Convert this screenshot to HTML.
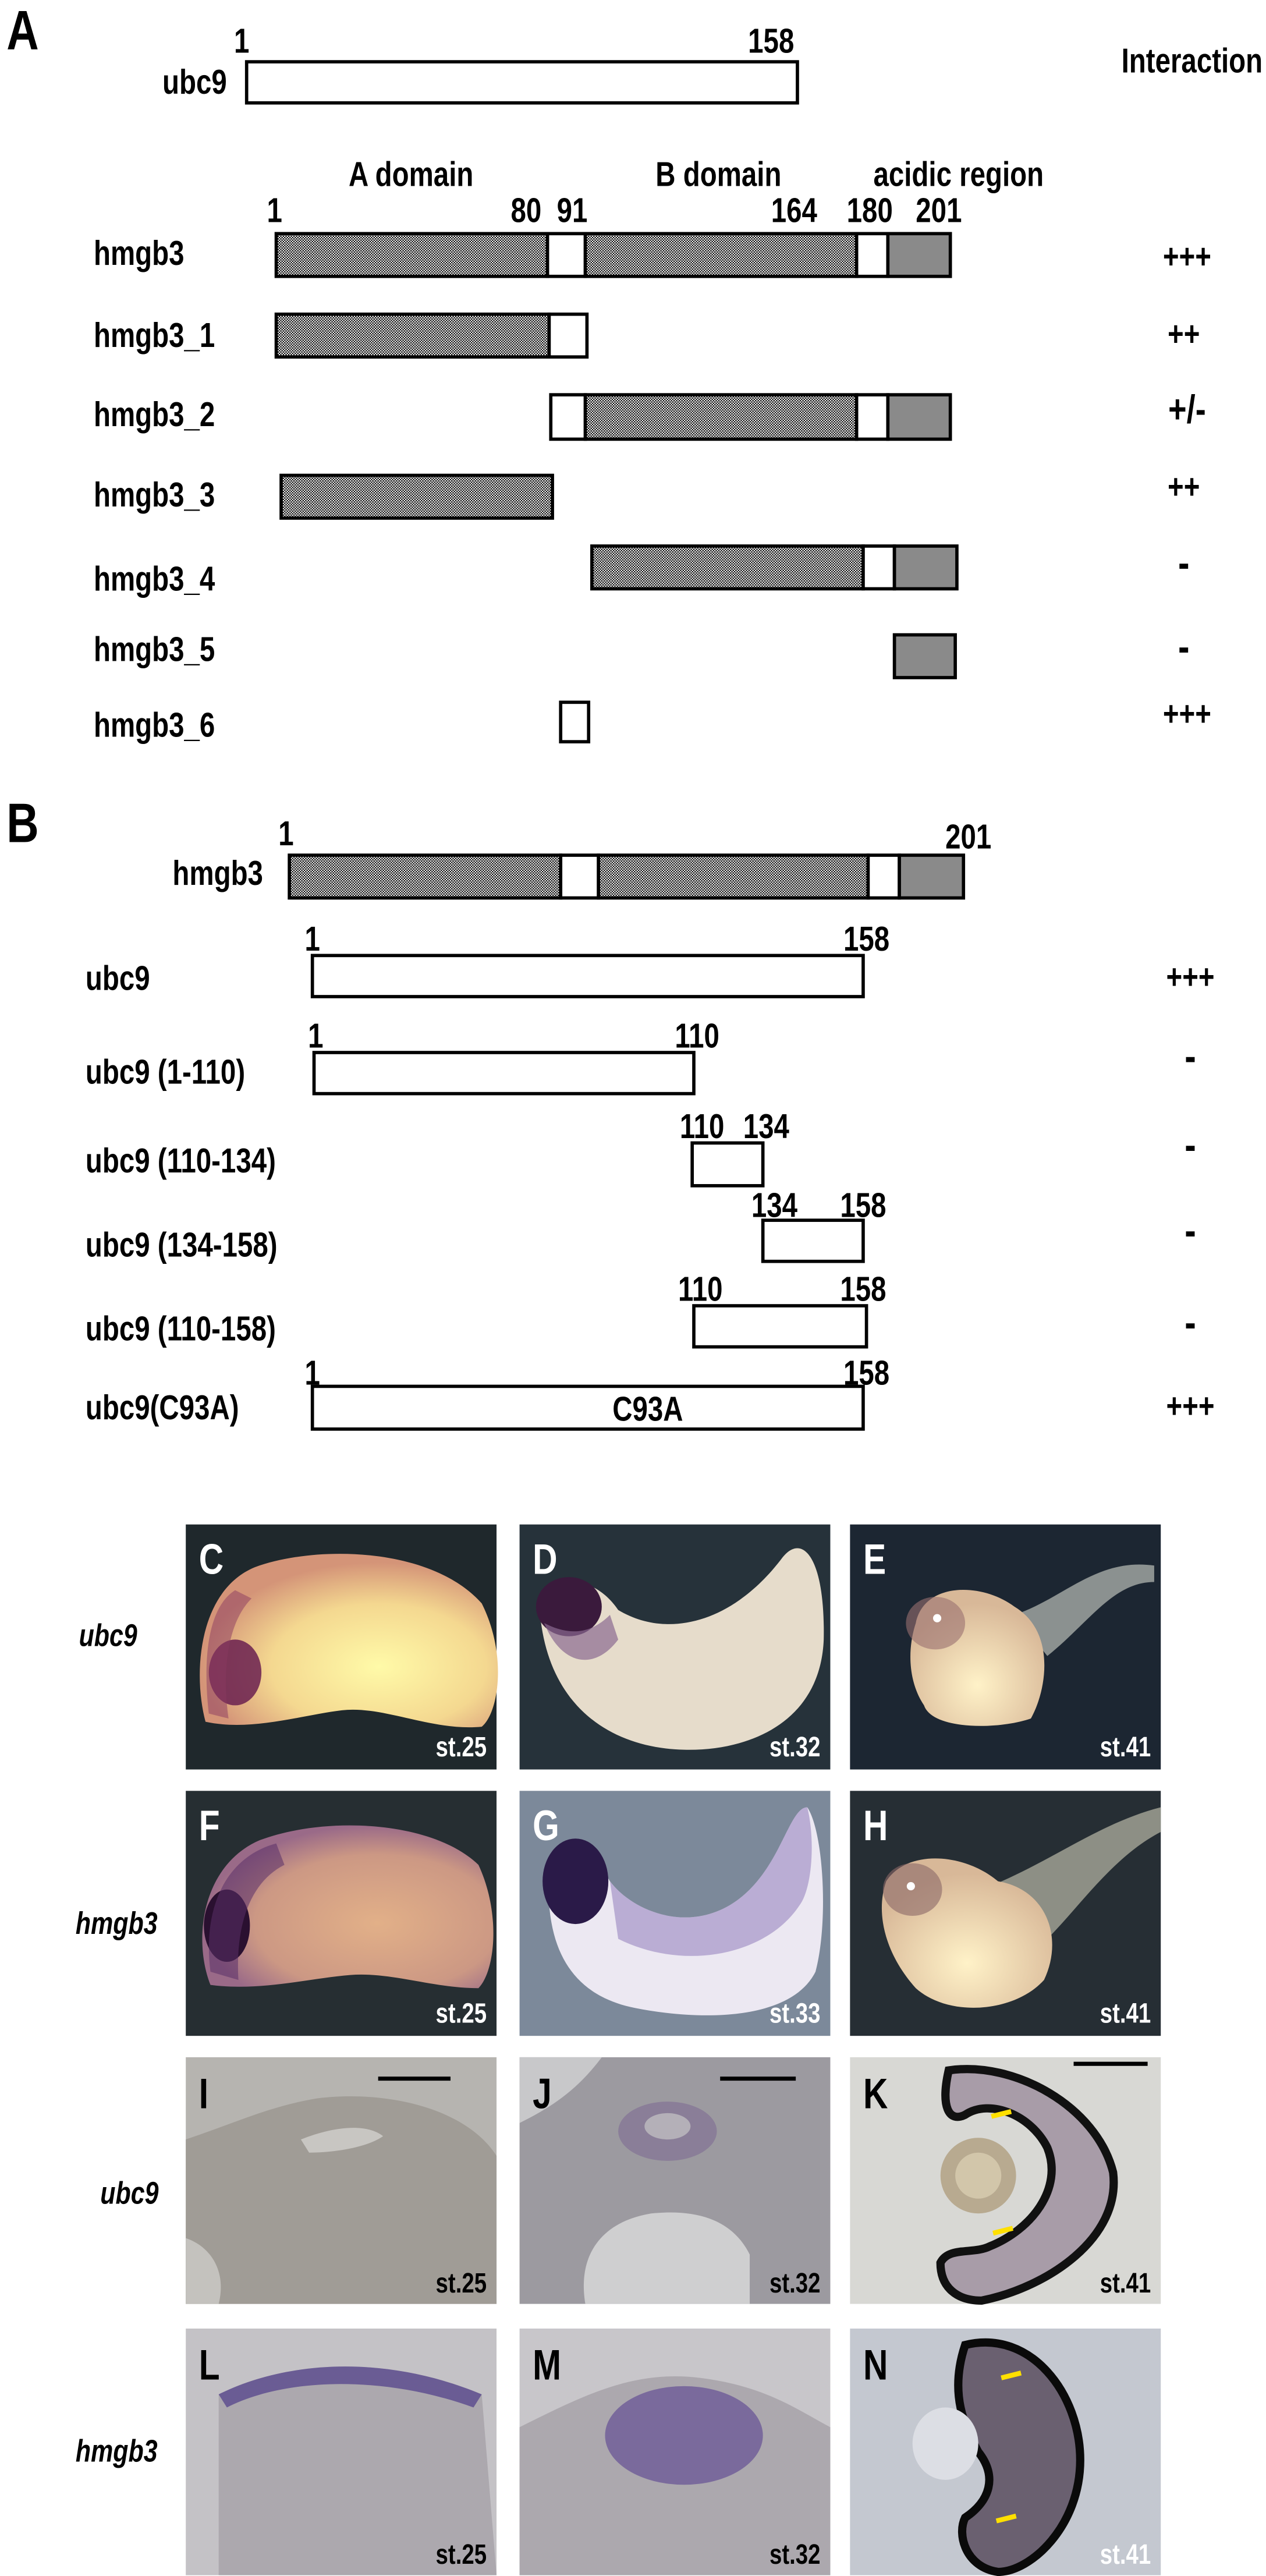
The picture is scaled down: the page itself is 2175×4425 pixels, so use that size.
<!DOCTYPE html>
<html><head><meta charset="utf-8"><style>
html,body{margin:0;padding:0;background:#fff;}
svg{display:block;}
text{font-family:"Liberation Sans Narrow","Liberation Sans",sans-serif;font-weight:bold;transform-box:fill-box;transform:scaleX(0.8);transform-origin:0 50%;}
text.m{transform-origin:50% 50%;}
text.e{transform-origin:100% 50%;}
.t{font-size:21px;fill:#000;}
.w{fill:#fff;}
</style></head><body>
<svg width="2175" height="4425" viewBox="0 0 770 1566.4" xmlns="http://www.w3.org/2000/svg">
<defs>
<pattern id="ck" patternUnits="userSpaceOnUse" width="1.6" height="1.6">
<rect width="1.6" height="1.6" fill="#fff"/><rect width="0.8" height="0.8" fill="#000"/><rect x="0.8" y="0.8" width="0.8" height="0.8" fill="#000"/>
</pattern>
<radialGradient id="gC" cx="0.6" cy="0.65" r="0.6"><stop offset="0" stop-color="#fffaa8"/><stop offset="0.6" stop-color="#f4d890"/><stop offset="1" stop-color="#d49478"/></radialGradient>
<radialGradient id="gF" cx="0.6" cy="0.6" r="0.6"><stop offset="0" stop-color="#e2b088"/><stop offset="0.7" stop-color="#cc9884"/><stop offset="1" stop-color="#9a6a88"/></radialGradient>
<radialGradient id="gE" cx="0.5" cy="0.7" r="0.6"><stop offset="0" stop-color="#fff2c8"/><stop offset="1" stop-color="#d8b898"/></radialGradient>
</defs>

<!-- Panel A -->
<text x="4" y="30" style="font-size:34px">A</text>
<text class="t m" x="147" y="32" text-anchor="middle">1</text>
<text class="t m" x="469" y="32" text-anchor="middle">158</text>
<text class="t e" x="138" y="57" text-anchor="end">ubc9</text>
<rect x="150" y="37.5" width="335" height="25" fill="#fff" stroke="#000" stroke-width="2"/>
<text class="t m" x="725" y="44" text-anchor="middle">Interaction</text>

<text class="t m" x="250" y="113" text-anchor="middle">A domain</text>
<text class="t m" x="437" y="113" text-anchor="middle">B domain</text>
<text class="t m" x="583" y="113" text-anchor="middle">acidic region</text>
<text class="t m" x="167" y="135" text-anchor="middle">1</text>
<text class="t m" x="320" y="135" text-anchor="middle">80</text>
<text class="t m" x="348" y="135" text-anchor="middle">91</text>
<text class="t m" x="483" y="135" text-anchor="middle">164</text>
<text class="t m" x="529" y="135" text-anchor="middle">180</text>
<text class="t m" x="571" y="135" text-anchor="middle">201</text>

<g stroke="#000" stroke-width="2">
<rect x="168" y="142" width="165" height="26" fill="url(#ck)"/><rect x="333" y="142" width="23" height="26" fill="#fff"/><rect x="356" y="142" width="165" height="26" fill="url(#ck)"/><rect x="521" y="142" width="19" height="26" fill="#fff"/><rect x="540" y="142" width="38" height="26" fill="#8a8a8a"/>
<rect x="168" y="191" width="166" height="26" fill="url(#ck)"/><rect x="334" y="191" width="23" height="26" fill="#fff"/>
<rect x="335" y="240" width="21" height="27" fill="#fff"/><rect x="356" y="240" width="165" height="27" fill="url(#ck)"/><rect x="521" y="240" width="19" height="27" fill="#fff"/><rect x="540" y="240" width="38" height="27" fill="#8a8a8a"/>
<rect x="171" y="289" width="165" height="26" fill="url(#ck)"/>
<rect x="360" y="332" width="165" height="26" fill="url(#ck)"/><rect x="525" y="332" width="19" height="26" fill="#fff"/><rect x="544" y="332" width="38" height="26" fill="#8a8a8a"/>
<rect x="544" y="386" width="37" height="26" fill="#8a8a8a"/>
<rect x="341" y="427" width="17" height="24" fill="#fff"/>
</g>
<text class="t" x="57" y="161">hmgb3</text>
<text class="t" x="57" y="211">hmgb3_1</text>
<text class="t" x="57" y="259">hmgb3_2</text>
<text class="t" x="57" y="308">hmgb3_3</text>
<text class="t" x="57" y="359">hmgb3_4</text>
<text class="t" x="57" y="402">hmgb3_5</text>
<text class="t" x="57" y="448">hmgb3_6</text>
<text class="t m" x="722" y="163" text-anchor="middle">+++</text>
<text class="t m" x="720" y="210" text-anchor="middle">++</text>
<text class="t m" x="722" y="257" text-anchor="middle" style="font-size:24px">+/-</text>
<text class="t m" x="720" y="303" text-anchor="middle">++</text>
<text class="t m" x="720" y="351" text-anchor="middle" style="font-size:26px">-</text>
<text class="t m" x="720" y="402" text-anchor="middle" style="font-size:26px">-</text>
<text class="t m" x="722" y="441" text-anchor="middle">+++</text>

<!-- Panel B -->
<text x="4" y="512" style="font-size:34px">B</text>
<text class="t m" x="174" y="514" text-anchor="middle">1</text>
<text class="t m" x="589" y="516" text-anchor="middle">201</text>
<text class="t e" x="160" y="538" text-anchor="end">hmgb3</text>
<g stroke="#000" stroke-width="2">
<rect x="176" y="520" width="165" height="26" fill="url(#ck)"/><rect x="341" y="520" width="23" height="26" fill="#fff"/><rect x="364" y="520" width="164" height="26" fill="url(#ck)"/><rect x="528" y="520" width="19" height="26" fill="#fff"/><rect x="547" y="520" width="39" height="26" fill="#8a8a8a"/>
<rect x="190" y="581" width="335" height="25" fill="#fff"/>
<rect x="191" y="640" width="231" height="25" fill="#fff"/>
<rect x="421" y="695" width="43" height="26" fill="#fff"/>
<rect x="464" y="742" width="61" height="25" fill="#fff"/>
<rect x="422" y="794" width="105" height="25" fill="#fff"/>
<rect x="190" y="843" width="335" height="26" fill="#fff"/>
</g>
<text class="t m" x="190" y="578" text-anchor="middle">1</text>
<text class="t m" x="527" y="578" text-anchor="middle">158</text>
<text class="t m" x="192" y="637" text-anchor="middle">1</text>
<text class="t m" x="424" y="637" text-anchor="middle">110</text>
<text class="t m" x="427" y="692" text-anchor="middle">110</text>
<text class="t m" x="466" y="692" text-anchor="middle">134</text>
<text class="t m" x="471" y="740" text-anchor="middle">134</text>
<text class="t m" x="525" y="740" text-anchor="middle">158</text>
<text class="t m" x="426" y="791" text-anchor="middle">110</text>
<text class="t m" x="525" y="791" text-anchor="middle">158</text>
<text class="t m" x="190" y="842" text-anchor="middle">1</text>
<text class="t m" x="527" y="842" text-anchor="middle">158</text>
<text class="t m" x="394" y="864" text-anchor="middle">C93A</text>
<text class="t" x="52" y="602">ubc9</text>
<text class="t" x="52" y="659">ubc9 (1-110)</text>
<text class="t" x="52" y="713">ubc9 (110-134)</text>
<text class="t" x="52" y="764">ubc9 (134-158)</text>
<text class="t" x="52" y="815">ubc9 (110-158)</text>
<text class="t" x="52" y="863">ubc9(C93A)</text>
<text class="t m" x="724" y="601" text-anchor="middle">+++</text>
<text class="t m" x="724" y="651" text-anchor="middle" style="font-size:26px">-</text>
<text class="t m" x="724" y="705" text-anchor="middle" style="font-size:26px">-</text>
<text class="t m" x="724" y="757" text-anchor="middle" style="font-size:26px">-</text>
<text class="t m" x="724" y="813" text-anchor="middle" style="font-size:26px">-</text>
<text class="t m" x="724" y="862" text-anchor="middle">+++</text>

<!-- Row labels -->
<g style="font-style:italic;font-size:19px">
<text x="48" y="1001">ubc9</text>
<text x="46" y="1176">hmgb3</text>
<text x="61" y="1340">ubc9</text>
<text x="46" y="1497">hmgb3</text>
</g>

<!-- C -->
<g transform="translate(113,927)">
<rect width="189" height="149" fill="#1f282c"/>
<path d="M12,120 C4,90 8,40 42,26 C80,12 150,14 180,48 C196,80 190,115 180,123 C150,126 120,110 95,113 C70,116 40,126 12,120Z" fill="url(#gC)"/>
<ellipse cx="30" cy="90" rx="16" ry="20" fill="#6a2050" opacity="0.85"/>
<path d="M14,115 C10,80 14,50 30,40 L40,45 C25,60 22,90 26,118Z" fill="#8a3a60" opacity="0.5"/>
<text class="w" x="8" y="30" style="font-size:26px">C</text>
<text class="w e" x="183" y="141" text-anchor="end" style="font-size:17px">st.25</text>
</g>
<!-- D -->
<g transform="translate(316,927)">
<rect width="189" height="149" fill="#26323a"/>
<path d="M12,48 C20,30 45,30 60,52 C90,70 130,60 160,20 C172,5 186,20 185,70 C183,120 140,138 100,137 C55,136 15,110 12,48Z" fill="#e6dccb"/>
<ellipse cx="30" cy="50" rx="20" ry="18" fill="#3a1a3c"/>
<path d="M15,60 C25,85 45,90 60,70 L55,55 C40,70 25,65 15,60Z" fill="#8a6a90" opacity="0.7"/>
<text class="w" x="8" y="30" style="font-size:26px">D</text>
<text class="w e" x="183" y="141" text-anchor="end" style="font-size:17px">st.32</text>
</g>
<!-- E -->
<g transform="translate(517,927)">
<rect width="189" height="149" fill="#1c2632"/>
<path d="M100,55 C130,45 150,20 185,25 L185,35 C160,35 145,60 120,80Z" fill="#a8aca8" opacity="0.8"/>
<path d="M40,60 C45,35 80,35 100,50 C125,65 120,100 110,118 C90,125 50,125 45,110 C35,95 35,75 40,60Z" fill="url(#gE)"/>
<ellipse cx="52" cy="60" rx="18" ry="16" fill="#9a7070" opacity="0.6"/>
<circle cx="53" cy="57" r="2.5" fill="#fff"/>
<text class="w" x="8" y="30" style="font-size:26px">E</text>
<text class="w e" x="183" y="141" text-anchor="end" style="font-size:17px">st.41</text>
</g>
<!-- F -->
<g transform="translate(113,1089)">
<rect width="189" height="149" fill="#262e32"/>
<path d="M15,118 C4,90 10,45 45,30 C85,15 150,18 178,45 C192,75 188,110 178,120 C150,120 125,110 100,112 C75,114 45,122 15,118Z" fill="url(#gF)"/>
<ellipse cx="25" cy="82" rx="14" ry="22" fill="#2a1030"/>
<path d="M15,110 C10,70 25,40 55,32 L60,45 C40,55 30,80 32,115Z" fill="#5a3068" opacity="0.55"/>
<text class="w" x="8" y="30" style="font-size:26px">F</text>
<text class="w e" x="183" y="141" text-anchor="end" style="font-size:17px">st.25</text>
</g>
<!-- G -->
<g transform="translate(316,1089)">
<rect width="189" height="149" fill="#7c899a"/>
<path d="M18,50 C25,30 40,30 55,55 C70,75 110,90 140,60 C160,40 165,10 175,10 C185,25 188,80 180,110 C165,140 110,140 70,132 C35,125 15,100 18,50Z" fill="#ece8f2"/>
<path d="M55,55 C70,75 110,90 140,60 C160,40 165,10 175,10 C180,30 178,60 170,70 C150,100 100,110 60,90Z" fill="#9a86c0" opacity="0.6"/>
<ellipse cx="34" cy="55" rx="20" ry="26" fill="#2a1a48"/>
<text class="w" x="8" y="30" style="font-size:26px">G</text>
<text class="w e" x="183" y="141" text-anchor="end" style="font-size:17px">st.33</text>
</g>
<!-- H -->
<g transform="translate(517,1089)">
<rect width="189" height="149" fill="#262e34"/>
<path d="M80,60 C120,45 150,20 189,10 L189,25 C160,40 140,70 120,90Z" fill="#b0b0a0" opacity="0.75"/>
<path d="M22,55 C35,35 70,38 90,55 C120,60 130,90 118,115 C100,135 60,138 40,120 C22,100 15,75 22,55Z" fill="url(#gE)"/>
<ellipse cx="38" cy="60" rx="18" ry="16" fill="#8a6868" opacity="0.6"/>
<circle cx="37" cy="58" r="2.5" fill="#fff"/>
<text class="w" x="8" y="30" style="font-size:26px">H</text>
<text class="w e" x="183" y="141" text-anchor="end" style="font-size:17px">st.41</text>
</g>

<!-- I -->
<g transform="translate(113,1251)">
<rect width="189" height="150" fill="#b6b4b0"/>
<path d="M0,50 C30,40 50,30 80,25 C120,20 170,30 189,60 L189,150 L0,150Z" fill="#a09c96"/>
<path d="M70,50 C90,42 110,40 120,48 C110,55 90,58 75,58Z" fill="#c8c6c2"/>
<path d="M0,110 C15,115 25,130 20,150 L0,150Z" fill="#c4c2be"/>
<line x1="117" y1="13" x2="161" y2="13" stroke="#000" stroke-width="2.5"/>
<text x="8" y="31" style="font-size:26px">I</text>
<text class="e" x="183" y="143" text-anchor="end" style="font-size:17px">st.25</text>
</g>
<!-- J -->
<g transform="translate(316,1251)">
<rect width="189" height="150" fill="#9c9aa0"/>
<path d="M40,150 C35,120 50,100 80,95 C110,92 130,100 140,120 L140,150Z" fill="#cfcfd0"/>
<path d="M0,0 L50,0 C35,20 20,30 0,40Z" fill="#c8c8ca"/>
<ellipse cx="90" cy="45" rx="30" ry="18" fill="#8a7e98"/>
<ellipse cx="90" cy="42" rx="14" ry="8" fill="#b4b0b8"/>
<line x1="122" y1="13" x2="168" y2="13" stroke="#000" stroke-width="2.5"/>
<text x="8" y="31" style="font-size:26px">J</text>
<text class="e" x="183" y="143" text-anchor="end" style="font-size:17px">st.32</text>
</g>
<!-- K -->
<g transform="translate(517,1251)">
<rect width="189" height="150" fill="#d8d8d4"/>
<path d="M60,8 C100,2 150,30 160,70 C165,110 120,140 80,148 C65,148 55,140 55,125 C60,115 75,120 85,115 C110,105 130,80 120,55 C110,35 85,25 70,35 C60,40 55,30 60,8Z" fill="#a89ca8" stroke="#111" stroke-width="5"/>
<circle cx="78" cy="72" r="23" fill="#b8aa90"/>
<circle cx="78" cy="72" r="14" fill="#d2c6aa"/>
<path d="M86,36 l12,-3 M87,107 l12,-3" stroke="#ffe000" stroke-width="3"/>
<line x1="136" y1="4" x2="181" y2="4" stroke="#000" stroke-width="2.5"/>
<text x="8" y="31" style="font-size:26px">K</text>
<text class="e" x="183" y="143" text-anchor="end" style="font-size:17px">st.41</text>
</g>
<!-- L -->
<g transform="translate(113,1416)">
<rect width="189" height="150" fill="#c4c2c6"/>
<path d="M20,40 C60,20 120,15 180,40 L189,150 L20,150Z" fill="#aca8ae"/>
<path d="M20,40 C60,20 120,15 180,40 L175,48 C120,28 60,30 25,48Z" fill="#6a5c94"/>
<text x="8" y="31" style="font-size:26px">L</text>
<text class="e" x="183" y="143" text-anchor="end" style="font-size:17px">st.25</text>
</g>
<!-- M -->
<g transform="translate(316,1416)">
<rect width="189" height="150" fill="#c8c6ca"/>
<path d="M0,60 C40,40 70,25 110,30 C150,35 170,50 189,60 L189,150 L0,150Z" fill="#aca8ae"/>
<ellipse cx="100" cy="65" rx="48" ry="30" fill="#7a6a9c"/>
<text x="8" y="31" style="font-size:26px">M</text>
<text class="e" x="183" y="143" text-anchor="end" style="font-size:17px">st.32</text>
</g>
<!-- N -->
<g transform="translate(517,1416)">
<rect width="189" height="150" fill="#c4c8d0"/>
<path d="M70,10 C110,0 140,40 140,80 C140,120 110,148 90,148 C70,145 65,125 70,115 C85,105 90,90 78,75 C70,60 60,40 70,10Z" fill="#6a6070" stroke="#0a0a0a" stroke-width="5"/>
<ellipse cx="58" cy="70" rx="20" ry="22" fill="#dcdee4"/>
<path d="M92,30 l12,-3 M89,117 l12,-3" stroke="#ffe000" stroke-width="3"/>
<text x="8" y="31" style="font-size:26px">N</text>
<text class="w e" x="183" y="143" text-anchor="end" style="font-size:17px">st.41</text>
</g>
</svg>
</body></html>
